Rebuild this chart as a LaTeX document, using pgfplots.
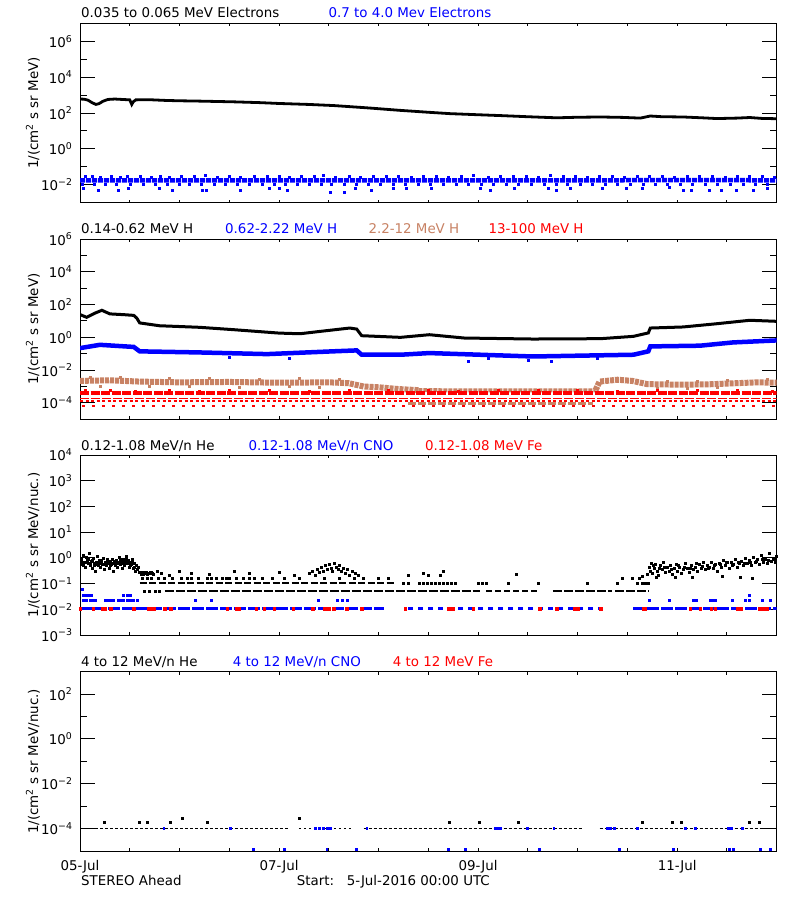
\documentclass[border=0pt]{standalone}
\usepackage{fontspec}
\setmainfont{DejaVu Sans}
\usepackage{pgfplots}
\pgfplotsset{compat=1.18}
\definecolor{idlblue}{RGB}{0,0,255}
\definecolor{idlred}{RGB}{255,0,0}
\definecolor{idltan}{RGB}{200,130,100}
\newcommand{\tfont}{\fontsize{13.4}{16}\selectfont}
\newcommand{\tenp}[1]{10\textsuperscript{#1}}
\pgfplotsset{
  every axis/.append style={
    scale only axis, width=696.7pt, xmin=0, xmax=7,
    axis line style={line width=1pt},
    xtick=\empty, tick align=inside,
    major tick length=15pt, minor tick length=7pt,
    yticklabel style={font=\tfont, xshift=-4pt},
  },
  every tick/.append style={line width=1pt, black},
  every axis y label/.style={at={(axis description cs:0,0.5)}, xshift=-47pt, rotate=90, anchor=center, font=\tfont},
}
\tikzset{ttl/.style={anchor=base west, inner sep=0pt, font=\tfont}}
\begin{document}
\begin{tikzpicture}
\path[use as bounding box, fill=white] (0,0) rectangle (800pt,-900pt);

% ---------------- Panel 1: electrons ----------------
\begin{axis}[ymode=log, at={(80pt,-23.3pt)}, anchor=north west, height=179.4pt,
  ymin=1e-3, ymax=1e7,
  ytick={1e-2,1,1e2,1e4,1e6},
  yticklabels={\tenp{−2},\tenp{0},\tenp{2},\tenp{4},\tenp{6}},
  minor ytick={1e-1,1e1,1e3,1e5},
  ylabel={1/(cm\textsuperscript{2} s sr MeV)}]
\addplot[idlblue, line width=4.5pt, dash pattern=on 5pt off 1pt] coordinates {(0,0.0178)(1.5,0.0175)(3,0.0178)(4.5,0.0176)(6,0.0180)(7,0.0178)};
\addplot[only marks, mark=square*, mark size=1pt, mark options={draw=none}, idlblue] coordinates {(0.05,0.029)(0.12,0.031)(0.2,0.028)(0.31,0.030)(0.4,0.027)(0.47,0.032)(0.6,0.029)(0.72,0.028)(0.81,0.031)(0.9,0.027)(1.02,0.030)(1.15,0.029)(1.26,0.033)(1.38,0.028)(1.5,0.030)(1.61,0.027)(1.75,0.031)(1.88,0.029)(2.0,0.032)(2.1,0.028)(2.22,0.030)(2.35,0.029)(2.44,0.034)(2.56,0.028)(2.7,0.031)(2.82,0.027)(2.95,0.030)(3.08,0.029)(3.2,0.032)(3.33,0.028)(3.45,0.030)(3.58,0.031)(3.7,0.027)(3.83,0.029)(3.95,0.033)(4.1,0.028)(4.22,0.030)(4.35,0.029)(4.48,0.031)(4.6,0.028)(4.72,0.036)(4.85,0.029)(4.98,0.030)(5.1,0.028)(5.22,0.031)(5.35,0.029)(5.47,0.027)(5.6,0.030)(5.72,0.029)(5.85,0.032)(5.97,0.028)(6.1,0.030)(6.22,0.029)(6.35,0.031)(6.48,0.028)(6.6,0.030)(6.72,0.029)(6.85,0.031)(6.97,0.028)};
\addplot[only marks, mark=square*, mark size=1pt, mark options={draw=none}, idlblue] coordinates {(0.02,0.0108)(0.14,0.011)(0.25,0.0105)(0.36,0.0112)(0.5,0.0107)(0.63,0.011)(0.76,0.0106)(0.88,0.0112)(1.0,0.0108)(1.1,0.0104)(1.22,0.011)(1.35,0.0107)(1.46,0.0112)(1.58,0.0106)(1.7,0.011)(1.83,0.0108)(1.95,0.0105)(2.06,0.011)(2.18,0.0107)(2.3,0.0112)(2.42,0.0106)(2.52,0.011)(2.65,0.0108)(2.78,0.0105)(2.9,0.011)(3.02,0.0107)(3.15,0.0112)(3.27,0.0106)(3.4,0.011)(3.52,0.0108)(3.65,0.0105)(3.78,0.011)(3.9,0.0107)(4.03,0.0112)(4.15,0.0106)(4.28,0.011)(4.4,0.0108)(4.53,0.0105)(4.66,0.011)(4.78,0.0107)(4.9,0.0112)(5.03,0.0106)(5.15,0.011)(5.28,0.0108)(5.4,0.0105)(5.53,0.011)(5.66,0.0107)(5.78,0.0112)(5.9,0.0106)(6.03,0.011)(6.15,0.0108)(6.28,0.0105)(6.4,0.011)(6.53,0.0107)(6.66,0.0112)(6.78,0.0106)(6.9,0.011)};
\addplot[only marks, mark=square*, mark size=1pt, mark options={draw=none}, idlblue] coordinates {(0.03,0.0068)(0.18,0.0052)(0.38,0.0052)(0.48,0.0068)(0.8,0.0068)(0.93,0.0052)(1.23,0.0052)(1.27,0.0052)(1.61,0.0052)(1.9,0.0068)(2.0,0.0068)(2.08,0.0052)(2.51,0.0037)(2.65,0.0037)(2.76,0.0068)(2.93,0.0052)(3.15,0.0068)(3.28,0.0068)(3.53,0.0068)(4.02,0.0068)(4.12,0.0052)(4.36,0.0068)(4.7,0.0068)(4.78,0.0052)(4.93,0.0068)(5.25,0.0068)(5.49,0.0068)(5.65,0.0068)(5.92,0.0075)(6.06,0.0052)(6.14,0.0052)(6.32,0.0052)(6.44,0.0052)(6.59,0.0052)(6.76,0.0052)(6.9,0.0068)};
\addplot[black, line width=2.8pt] coordinates {(0,600)(0.04,590)(0.08,520)(0.12,380)(0.16,300)(0.19,330)(0.23,450)(0.28,570)(0.35,600)(0.45,560)(0.5,540)(0.52,300)(0.535,420)(0.56,540)(0.7,550)(0.87,500)(1.0,480)(1.2,460)(1.54,420)(1.8,380)(2.0,340)(2.3,300)(2.55,260)(2.88,195)(3.22,140)(3.5,110)(3.72,92)(4.0,80)(4.22,72)(4.5,62)(4.79,54)(5.0,58)(5.23,60)(5.45,57)(5.63,52)(5.73,68)(5.85,62)(6.06,60)(6.25,54)(6.4,49)(6.6,52)(6.73,56)(6.85,50)(7.0,48)};
\end{axis}

% ---------------- Panel 2: protons ----------------
\begin{axis}[ymode=log, at={(80pt,-239pt)}, anchor=north west, height=180.3pt,
  ymin=1e-5, ymax=1e6,
  ytick={1e-4,1e-2,1,1e2,1e4,1e6},
  yticklabels={\tenp{−4},\tenp{−2},\tenp{0},\tenp{2},\tenp{4},\tenp{6}},
  minor ytick={1e-3,1e-1,1e1,1e3,1e5},
  ylabel={1/(cm\textsuperscript{2} s sr MeV)}]
\addplot[idltan, line width=6pt, dash pattern=on 4pt off 1pt] coordinates {(0,2.2e-3)(0.3,2.4e-3)(0.6,2.0e-3)(1.0,1.8e-3)(1.5,1.9e-3)(2.0,1.7e-3)(2.5,1.8e-3)(2.7,1.6e-3)(2.85,1.0e-3)(3.0,9e-4)(3.2,7e-4)(3.4,6e-4)};
\addplot[idltan, line width=4pt, dash pattern=on 4pt off 1pt] coordinates {(3.4,6e-4)(4.0,5.8e-4)(4.6,5.8e-4)(5.18,5.8e-4)};
\addplot[idltan, line width=6pt, dash pattern=on 4pt off 1pt] coordinates {(5.18,6e-4)(5.22,2.0e-3)(5.4,2.6e-3)(5.55,2.2e-3)(5.7,1.4e-3)(6.0,1.3e-3)(6.3,1.35e-3)(6.6,1.6e-3)(6.8,1.8e-3)(7.0,1.7e-3)};
\addplot[only marks, mark=square*, mark size=1pt, mark options={draw=none}, idltan] coordinates {(0.1,3.6e-3)(0.4,3.8e-3)(0.9,3.2e-3)(1.3,3.3e-3)(1.8,3.0e-3)(2.2,3.1e-3)(2.6,2.9e-3)(0.2,1.1e-3)(0.7,1.0e-3)(1.1,1.0e-3)(1.6,0.95e-3)(2.1,1.0e-3)(2.4,0.95e-3)(5.9,2.1e-3)(6.2,2.2e-3)(6.5,2.5e-3)(6.9,2.8e-3)(5.8,0.8e-3)(6.1,0.75e-3)(6.4,0.85e-3)};
\addplot[idlred, line width=4.5pt, dash pattern=on 9pt off 1.5pt] coordinates {(0,3.9e-4)(7,3.9e-4)};
\addplot[only marks, mark=square*, mark size=1pt, mark options={draw=none}, idlred] coordinates {(0.05,5.6e-4)(0.3,5.8e-4)(0.55,5.5e-4)(0.9,5.7e-4)(1.2,5.5e-4)(1.5,5.9e-4)(1.9,5.6e-4)(2.3,5.5e-4)(2.7,5.8e-4)(3.1,5.6e-4)(3.5,5.7e-4)(3.8,5.5e-4)(4.2,5.8e-4)(4.6,5.6e-4)(5.0,5.7e-4)(5.4,5.5e-4)(5.8,5.8e-4)(6.2,5.6e-4)(6.6,5.7e-4)(6.95,5.5e-4)};
\addplot[idlred, line width=1.6pt, dash pattern=on 9pt off 2pt] coordinates {(0,1.9e-4)(7,1.9e-4)};
\addplot[idlred, line width=1.6pt, dash pattern=on 3pt off 2.5pt] coordinates {(0,1.3e-4)(7,1.3e-4)};
\addplot[idltan, line width=2.5pt, dash pattern=on 8pt off 2pt] coordinates {(3.3,9.5e-5)(5.15,9.5e-5)};
\addplot[idlred, line width=2pt, dash pattern=on 3pt off 7pt] coordinates {(0.02,6.8e-5)(7,6.8e-5)};
\addplot[idlblue, line width=4.5pt] coordinates {(0,0.22)(0.2,0.35)(0.54,0.26)(0.6,0.14)(1.2,0.12)(1.88,0.095)(2.54,0.14)(2.78,0.16)(2.83,0.087)(3.22,0.087)(3.51,0.11)(4.55,0.068)(5.56,0.087)(5.71,0.14)(5.73,0.28)(6.23,0.31)(6.56,0.49)(7.0,0.65)};
\addplot[only marks, mark=square*, mark size=1pt, mark options={draw=none}, idlblue] coordinates {(3.9,0.035)(4.5,0.04)(4.73,0.035)(1.5,0.06)(2.1,0.055)(4.1,0.05)(5.2,0.052)};
\addplot[black, line width=3pt] coordinates {(0,24.5)(0.067,16.6)(0.15,30)(0.22,44.7)(0.3,27)(0.45,24)(0.54,21.9)(0.57,15)(0.60,7.6)(0.8,5.1)(1.2,4.1)(1.54,2.95)(2.0,1.82)(2.21,1.66)(2.41,2.3)(2.71,3.7)(2.78,3.2)(2.83,1.26)(3.22,1.0)(3.51,1.45)(3.86,0.91)(4.55,0.79)(5.23,0.83)(5.56,1.15)(5.71,1.86)(5.73,3.7)(6.06,4.3)(6.40,6.8)(6.73,11)(7.0,9.5)};
\end{axis}

% ---------------- Panel 3: low-energy ions ----------------
\begin{axis}[ymode=log, at={(80pt,-455pt)}, anchor=north west, height=180pt,
  ymin=1e-3, ymax=1e4,
  ytick={1e-3,1e-2,1e-1,1,1e1,1e2,1e3,1e4},
  yticklabels={\tenp{−3},\tenp{−2},\tenp{−1},\tenp{0},\tenp{1},\tenp{2},\tenp{3},\tenp{4}},
  minor ytick={2e4},
  ylabel={1/(cm\textsuperscript{2} s sr MeV/nuc.)}]
\addplot[idlblue, line width=2.2pt, dash pattern=on 12pt off 2pt] coordinates {(0,0.0107)(3.05,0.0107)};
\addplot[idlblue, line width=2.2pt, dash pattern=on 5pt off 5pt] coordinates {(3.3,0.0107)(5.3,0.0107)};
\addplot[idlblue, line width=2.2pt, dash pattern=on 12pt off 2pt] coordinates {(5.56,0.0107)(7,0.0107)};
\addplot[only marks, mark=square*, mark size=1pt, mark options={draw=none}, idlblue] coordinates {(0.03,0.022)(0.06,0.022)(0.1,0.022)(0.12,0.022)(0.15,0.022)(0.25,0.022)(0.28,0.022)(0.3,0.022)(0.33,0.022)(0.38,0.022)(0.4,0.022)(0.43,0.022)(0.47,0.022)(0.5,0.022)(0.53,0.022)(0.57,0.022)(1.16,0.022)(1.32,0.022)(2.39,0.022)(2.58,0.022)(2.63,0.022)(2.68,0.022)(5.72,0.022)(5.92,0.022)(6.16,0.022)(6.19,0.022)(6.33,0.022)(6.36,0.022)(6.38,0.022)(6.55,0.022)(6.68,0.022)(6.72,0.022)(6.85,0.022)(6.93,0.022)(0.03,0.035)(0.05,0.035)(0.08,0.035)(0.11,0.035)(0.43,0.035)(0.47,0.035)(0.5,0.035)(6.72,0.035)(0.02,0.059)};
\addplot[only marks, mark=square*, mark size=1.2pt, mark options={draw=none}, idlred] coordinates {(0.0,0.0107)(0.13,0.0107)(0.23,0.0107)(0.25,0.0107)(0.31,0.0107)(0.54,0.0107)(0.69,0.0107)(0.72,0.0107)(0.74,0.0107)(0.85,0.0107)(0.91,0.0107)(1.48,0.0107)(1.57,0.0107)(1.6,0.0107)(1.77,0.0107)(1.85,0.0107)(1.95,0.0107)(2.14,0.0107)(2.34,0.0107)(2.46,0.0107)(2.5,0.0107)(2.55,0.0107)(2.68,0.0107)(2.83,0.0107)(3.27,0.0107)(3.7,0.0107)(3.72,0.0107)(3.75,0.0107)(3.95,0.0107)(4.62,0.0107)(4.79,0.0107)(4.97,0.0107)(5.0,0.0107)(5.23,0.0107)(5.66,0.0107)(5.68,0.0107)(6.13,0.0107)(6.23,0.0107)(6.34,0.0107)(6.38,0.0107)(6.61,0.0107)(6.64,0.0107)(6.83,0.0107)(6.86,0.0107)(6.9,0.0107)};
\addplot[black, line width=2.2pt, dash pattern=on 7pt off 2.5pt] coordinates {(0.6,0.107)(3.15,0.107)};
\addplot[only marks, mark=square*, mark size=1pt, mark options={draw=none}, black] coordinates {(3.25,0.107)(3.3,0.107)(3.41,0.107)(3.45,0.107)(3.49,0.107)(3.53,0.107)(3.57,0.107)(3.61,0.107)(3.65,0.107)(3.69,0.107)(3.73,0.107)(3.77,0.107)(4.0,0.107)(4.04,0.107)(4.08,0.107)(4.3,0.107)(4.6,0.107)(5.1,0.107)(5.4,0.107)(5.6,0.107)(5.65,0.107)(5.68,0.107)(5.71,0.107)};
\addplot[black, line width=2.2pt, dash pattern=on 9pt off 2pt] coordinates {(0.85,0.052)(4.02,0.052)};
\addplot[black, line width=2.2pt, dash pattern=on 6pt off 3pt] coordinates {(4.08,0.052)(4.6,0.052)};
\addplot[black, line width=2.2pt, dash pattern=on 9pt off 2pt] coordinates {(4.75,0.052)(5.35,0.052)};
\addplot[black, line width=2.2pt, dash pattern=on 9pt off 2pt] coordinates {(5.38,0.052)(5.72,0.052)};
\addplot[only marks, mark=square*, mark size=1pt, mark options={draw=none}, black] coordinates {(0.65,0.052)(0.7,0.052)(0.76,0.052)(0.8,0.052)};
\addplot[only marks, mark=square*, mark size=1pt, mark options={draw=none}, black] coordinates {(0.62,0.16)(0.68,0.16)(0.72,0.16)(0.79,0.16)(0.85,0.16)(0.93,0.16)(1.02,0.16)(1.08,0.16)(1.12,0.16)(1.19,0.16)(1.28,0.16)(1.32,0.16)(1.37,0.16)(1.43,0.16)(1.47,0.16)(1.5,0.16)(1.57,0.16)(1.64,0.16)(1.7,0.16)(1.75,0.16)(1.83,0.16)(1.93,0.16)(2.05,0.16)(2.2,0.16)(2.45,0.16)(2.6,0.16)(2.75,0.16)(2.85,0.16)(3.0,0.16)(3.1,0.16)(5.45,0.16)(5.55,0.16)(5.62,0.16)};
\addplot[only marks, mark=square*, mark size=1pt, mark options={draw=none}, black] coordinates {(0.6,0.27)(0.61,0.24)(0.63,0.27)(0.64,0.24)(0.65,0.25)(0.66,0.27)(0.67,0.28)(0.68,0.24)(0.7,0.25)(0.71,0.27)(0.72,0.27)(0.73,0.25)(0.74,0.24)(0.78,0.3)(0.82,0.25)(0.9,0.22)(1.0,0.3)(1.12,0.26)(1.3,0.24)(1.55,0.3)(1.7,0.25)(2.0,0.27)(2.15,0.22)(3.3,0.22)(3.45,0.25)(3.5,0.22)(3.62,0.22)(3.65,0.3)(4.38,0.24)(5.65,0.2)(5.7,0.24)};
\addplot[only marks, mark=square*, mark size=1pt, mark options={draw=none}, black] coordinates {(0.01,0.9)(0.02,0.55)(0.03,1.3)(0.04,0.7)(0.05,0.45)(0.06,1.1)(0.07,0.8)(0.08,0.6)(0.09,1.5)(0.10,0.5)(0.11,0.75)(0.12,0.38)(0.13,0.95)(0.14,0.62)(0.15,0.3)(0.16,0.7)(0.17,1.2)(0.18,0.5)(0.19,0.8)(0.2,0.42)(0.21,0.65)(0.22,0.55)(0.23,1.0)(0.24,0.35)(0.25,0.7)(0.26,0.5)(0.27,0.85)(0.28,0.6)(0.29,0.4)(0.3,0.75)(0.31,0.55)(0.32,0.9)(0.33,0.3)(0.34,0.65)(0.35,0.5)(0.36,0.8)(0.37,0.45)(0.38,0.6)(0.39,1.1)(0.4,0.55)(0.41,0.7)(0.42,0.38)(0.43,0.9)(0.44,0.5)(0.45,0.65)(0.46,1.2)(0.47,0.6)(0.48,0.8)(0.49,0.45)(0.5,0.7)(0.51,0.55)(0.52,0.9)(0.53,0.4)(0.54,0.6)(0.55,0.3)(0.56,0.5)(0.57,0.35)(0.58,0.45)(0.59,0.28)(0.015,0.7)(0.035,0.5)(0.065,0.65)(0.085,0.9)(0.105,0.6)(0.125,0.8)(0.145,0.5)(0.165,0.55)(0.195,0.6)(0.215,0.8)(0.245,0.55)(0.265,0.65)(0.285,0.7)(0.305,0.5)(0.325,0.6)(0.345,0.75)(0.365,0.6)(0.385,0.7)(0.405,0.85)(0.425,0.6)(0.445,0.7)(0.465,0.85)(0.485,0.6)(0.505,0.5)(0.525,0.7)(0.545,0.45)};
\addplot[only marks, mark=square*, mark size=1pt, mark options={draw=none}, black] coordinates {(2.3,0.25)(2.33,0.3)(2.36,0.22)(2.38,0.35)(2.4,0.28)(2.42,0.45)(2.44,0.3)(2.46,0.5)(2.48,0.35)(2.5,0.55)(2.52,0.4)(2.53,0.3)(2.55,0.6)(2.57,0.45)(2.59,0.35)(2.6,0.5)(2.62,0.3)(2.64,0.4)(2.66,0.25)(2.68,0.35)(2.7,0.22)(2.73,0.3)(2.76,0.25)(2.8,0.22)};
\addplot[only marks, mark=square*, mark size=1pt, mark options={draw=none}, black] coordinates {(5.72,0.45)(5.73,0.3)(5.74,0.6)(5.75,0.25)(5.77,0.4)(5.78,0.55)(5.8,0.3)(5.81,0.22)(5.83,0.5)(5.85,0.35)(5.86,0.65)(5.88,0.28)(5.9,0.42)(5.92,0.3)(5.93,0.5)(5.95,0.24)(5.97,0.38)(5.99,0.55)(6.0,0.3)(6.02,0.45)(6.04,0.25)(6.06,0.35)(6.08,0.6)(6.1,0.4)(6.12,0.28)(6.14,0.5)(6.16,0.35)(6.18,0.45)(6.2,0.3)(6.22,0.55)(6.24,0.4)(6.26,0.65)(6.28,0.35)(6.3,0.5)(6.32,0.42)(6.34,0.7)(6.36,0.38)(6.38,0.55)(6.4,0.3)(6.42,0.6)(6.44,0.45)(6.46,0.8)(6.48,0.5)(6.5,0.65)(6.52,0.4)(6.54,0.7)(6.56,0.55)(6.58,0.9)(6.6,0.45)(6.62,0.6)(6.64,0.75)(6.66,0.5)(6.68,0.95)(6.7,0.6)(6.72,0.8)(6.74,0.5)(6.76,1.1)(6.78,0.65)(6.8,0.85)(6.82,0.55)(6.84,1.3)(6.86,0.7)(6.88,0.9)(6.9,0.6)(6.92,1.5)(6.94,0.75)(6.96,1.0)(6.98,0.65)(6.99,1.2)(5.76,0.5)(5.82,0.38)(5.87,0.45)(5.94,0.35)(6.01,0.5)(6.07,0.42)(6.13,0.38)(6.19,0.6)(6.25,0.48)(6.31,0.38)(6.37,0.5)(6.43,0.55)(6.49,0.7)(6.55,0.5)(6.61,0.7)(6.67,0.6)(6.73,0.7)(6.79,0.75)(6.85,0.9)(6.91,0.8)(6.97,0.85)(5.79,0.18)(5.98,0.17)(6.15,0.17)(6.45,0.2)(6.63,0.18)(6.75,0.16)};
\end{axis}

% ---------------- Panel 4: high-energy ions ----------------
\begin{axis}[ymode=log, at={(80pt,-671.7pt)}, anchor=north west, height=179.3pt,
  ymin=1e-5, ymax=1e3,
  ytick={1e-4,1e-2,1,1e2},
  yticklabels={\tenp{−4},\tenp{−2},\tenp{0},\tenp{2}},
  minor ytick={1e-3,1e-1,1e1},
  ylabel={1/(cm\textsuperscript{2} s sr MeV/nuc.)}]
\addplot[black, line width=1.5pt, dash pattern=on 3pt off 2pt] coordinates {(0.1,1e-4)(2.1,1e-4)};
\addplot[black, line width=1.5pt, dash pattern=on 2pt off 3pt] coordinates {(2.2,1e-4)(2.75,1e-4)};
\addplot[black, line width=1.5pt, dash pattern=on 3pt off 2pt] coordinates {(2.85,1e-4)(5.05,1e-4)};
\addplot[black, line width=1.5pt, dash pattern=on 3pt off 2pt] coordinates {(5.22,1e-4)(6.95,1e-4)};
\addplot[only marks, mark=square*, mark size=0.9pt, mark options={draw=none}, idlblue] coordinates {(0.84,1e-4)(1.51,1e-4)(2.36,1e-4)(2.4,1e-4)(2.44,1e-4)(2.48,1e-4)(2.51,1e-4)(2.88,1e-4)(4.17,1e-4)(4.2,1e-4)(4.22,1e-4)(4.49,1e-4)(4.76,1e-4)(5.3,1e-4)(5.33,1e-4)(5.37,1e-4)(5.6,1e-4)(6.08,1e-4)(6.18,1e-4)(6.51,1e-4)(6.54,1e-4)(6.65,1e-4)};
\addplot[only marks, mark=square*, mark size=1pt, mark options={draw=none}, black] coordinates {(0.24,1.95e-4)(0.59,1.95e-4)(0.68,1.95e-4)(0.91,1.95e-4)(1.03,3e-4)(1.28,1.95e-4)(2.2,3e-4)(3.71,1.95e-4)(4.01,1.95e-4)(4.4,1.95e-4)(5.65,1.95e-4)(5.95,1.95e-4)(6.04,1.95e-4)(6.72,1.95e-4)(6.82,1.95e-4)};
\addplot[only marks, mark=square*, mark size=1pt, mark options={draw=none}, idlblue] coordinates {(1.74,1.2e-5)(2.05,1.2e-5)(2.48,1.2e-5)(2.78,1.2e-5)(3.70,1.2e-5)(3.87,1.2e-5)(4.61,1.2e-5)(5.42,1.2e-5)(5.96,1.2e-5)(6.52,1.2e-5)(6.56,1.2e-5)(6.83,1.2e-5)(6.93,1.2e-5)};
\end{axis}

% ---------------- x ticks every 12 h ----------------
\foreach \ya/\yb in {23.3/202.7, 239/419.3, 455/635, 671.7/851} {
  \foreach \i in {1,...,13} {
    \draw[line width=1pt] ({80pt+49.764pt*\i}, {-\ya pt}) -- ++(0,-3pt);
    \draw[line width=1pt] ({80pt+49.764pt*\i}, {-\yb pt}) -- ++(0,3pt);
  }
}

% ---------------- titles ----------------
\node[ttl] at (81pt,-17.3pt) {0.035 to 0.065 MeV Electrons};
\node[ttl, text=idlblue] at (328.3pt,-17.3pt) {0.7 to 4.0 Mev Electrons};
\node[ttl] at (81pt,-233.3pt) {0.14-0.62 MeV H};
\node[ttl, text=idlblue] at (225pt,-233.3pt) {0.62-2.22 MeV H};
\node[ttl, text=idltan] at (368.3pt,-233.3pt) {2.2-12 MeV H};
\node[ttl, text=idlred] at (488.3pt,-233.3pt) {13-100 MeV H};
\node[ttl] at (81pt,-450pt) {0.12-1.08 MeV/n He};
\node[ttl, text=idlblue] at (248.3pt,-450pt) {0.12-1.08 MeV/n CNO};
\node[ttl, text=idlred] at (425pt,-450pt) {0.12-1.08 MeV Fe};
\node[ttl] at (81pt,-666.7pt) {4 to 12 MeV/n He};
\node[ttl, text=idlblue] at (232.7pt,-666.7pt) {4 to 12 MeV/n CNO};
\node[ttl, text=idlred] at (392.7pt,-666.7pt) {4 to 12 MeV Fe};
\node[anchor=base, inner sep=0pt, font=\tfont] at (80pt,-870pt) {05-Jul};
\node[anchor=base, inner sep=0pt, font=\tfont] at (279.1pt,-870pt) {07-Jul};
\node[anchor=base, inner sep=0pt, font=\tfont] at (478.1pt,-870pt) {09-Jul};
\node[anchor=base, inner sep=0pt, font=\tfont] at (677.2pt,-870pt) {11-Jul};
\node[ttl] at (81pt,-885.7pt) {STEREO Ahead};
\node[ttl] at (296.7pt,-885.7pt) {Start:\ \ \ 5-Jul-2016 00:00 UTC};
\end{tikzpicture}
\end{document}
